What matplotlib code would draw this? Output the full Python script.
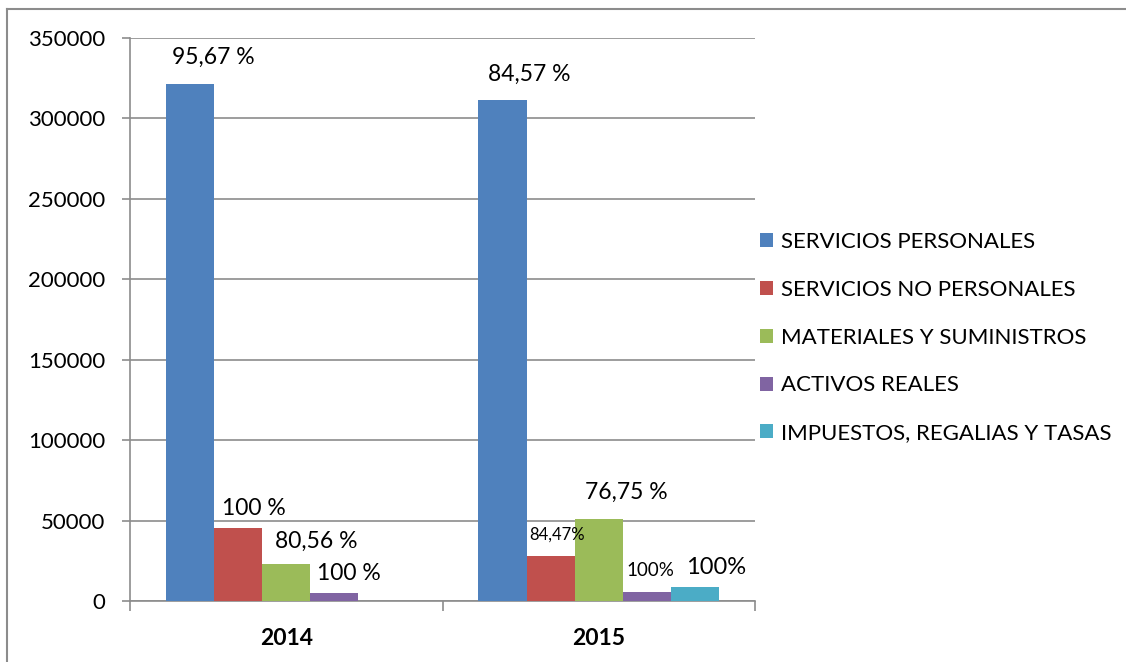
import numpy as np
import matplotlib.pyplot as plt
from matplotlib.lines import Line2D

plt.rcParams['font.family'] = ['Lato', 'DejaVu Sans']

# datos
anios = ['2014', '2015']
series = ['SERVICIOS PERSONALES', 'SERVICIOS NO PERSONALES',
          'MATERIALES Y SUMINISTROS', 'ACTIVOS REALES',
          'IMPUESTOS, REGALIAS Y TASAS']
servicios_personales = [321500, 311500]
servicios_no_personales = [45600, 28000]
materiales = [23300, 51000]
activos_reales = [5300, 5800]
impuestos = [0, 8900]
etiquetas = [['95,67 %', '84,57 %'], ['100 %', '84,47%'], ['80,56 %', '76,75 %'],
             ['100 %', '100%'], [None, '100%']]

valores = [servicios_personales, servicios_no_personales, materiales,
           activos_reales, impuestos]
colores = ['#4f81bd', '#c0504d', '#9bbb59', '#8064a2', '#4bacc6']

# desplazamiento de etiquetas (pixeles) y tamaño de letra
desp = [[(23, 27), (27, 26)], [(16, 19), (6, 21)], [(30, 22), (28, 27)],
        [(14, 19), (4, 21)], [(0, 0), (21, 19)]]
tam = [[16.5, 16.5], [16.5, 12], [16.5, 16.5], [16.5, 13.5], [16.5, 17]]

fig = plt.figure(figsize=(11.26, 6.62), dpi=100)
ax = fig.add_axes([0.1155, 0.0921, 0.555, 0.8505])

x = np.arange(len(anios))
w = 0.154
for i, (vals, col) in enumerate(zip(valores, colores)):
    pos = x - 2 * w + i * w
    bars = ax.bar(pos, vals, w, color=col, label=series[i], zorder=3)
    for j, b in enumerate(bars):
        if etiquetas[i][j] is None:
            continue
        ax.annotate(etiquetas[i][j], (b.get_x() + b.get_width() / 2, b.get_height()),
                    xytext=desp[i][j], textcoords='offset pixels',
                    ha='center', va='center', fontsize=tam[i][j], zorder=4)

ax.set_xlim(-0.5, 1.5)
ax.set_ylim(0, 350000)
ax.set_yticks(np.arange(0, 350001, 50000))
ax.yaxis.grid(True, color='#8c8c8c', lw=1.2, zorder=0)
ax.tick_params(axis='y', labelsize=16, length=6, color='#8c8c8c', width=1.2, pad=12)

ax.set_xticks([-0.5, 0.5, 1.5])
ax.set_xticklabels([])
ax.tick_params(axis='x', length=7, color='#8c8c8c', width=1.2)
for k, a in enumerate(anios):
    ax.text(x[k], -23000, a, ha='center', va='center', fontsize=16.5, fontweight='bold')

for s in ['top', 'right']:
    ax.spines[s].set_visible(False)
for s in ['left', 'bottom']:
    ax.spines[s].set_color('#8c8c8c')
    ax.spines[s].set_linewidth(1.2)

fig.legend(loc='center left', bbox_to_anchor=(0.657, 0.49), frameon=False,
           fontsize=16, handlelength=0.6, handleheight=0.6, handletextpad=0.35,
           labelspacing=1.25)

# marco exterior
fig.add_artist(Line2D([0.0062, 1.0], [0.9865, 0.9865], color='#8c8c8c', lw=1.5))
fig.add_artist(Line2D([0.0062, 0.0062], [0.0, 0.9865], color='#8c8c8c', lw=1.5))

fig.savefig('out.png', dpi=100)
